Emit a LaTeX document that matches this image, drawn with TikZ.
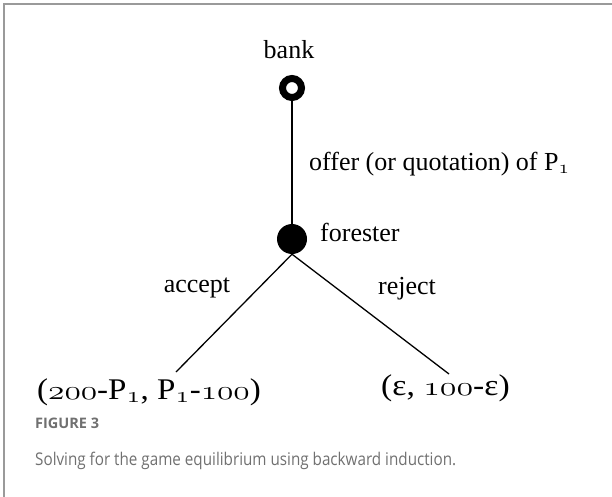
\documentclass[tikz,border=0pt]{standalone}
\usepackage{graphicx}
\usepackage{fontspec}
\setmainfont{Liberation Serif}
\newfontfamily\capfont{Open Sans}
\newcommand{\osn}[1]{\scalebox{1.22}[1.08]{\usefont{OML}{cmm}{m}{it}#1}}
\definecolor{capgray}{HTML}{707070}
\definecolor{framegray}{HTML}{9A9A9A}
\begin{document}
\begin{tikzpicture}[x=1pt,y=-1pt,
  lbl/.style={font=\fontsize{26}{30}\selectfont, inner sep=0pt},
  pay/.style={font=\fontsize{30}{34}\selectfont, inner sep=0pt},
  edge/.style={line width=1.3pt, draw=black},
  captext/.style={text=capgray, inner sep=0pt, anchor=base west}]
\useasboundingbox (0,0) rectangle (612,497);
\draw[framegray, line width=1.5pt] (4,497) -- (4,4) -- (612,4);
% nodes
\node[circle, draw=black, line width=7pt, fill=white, minimum size=19pt, inner sep=0pt] (bank) at (292,88) {};
\node[circle, fill=black, minimum size=30pt, inner sep=0pt] (forester) at (292,239) {};
\coordinate (left) at (176,372);
\coordinate (right) at (449,374);
% edges
\draw[edge] (bank) -- (forester);
\draw[edge] (forester.south) -- (left);
\draw[edge] (forester.south) -- (right);
% labels
\node[lbl, anchor=base] (banklbl) at (289,59) {bank};
\node[lbl, anchor=base west] (offer) at (309,170) {offer (or quotation) of P\textsubscript{\osn{1}}};
\node[lbl, anchor=base west] (forlbl) at (320,241) {forester};
\node[lbl, anchor=base] (accept) at (197,292) {accept};
\node[lbl, anchor=base] (reject) at (407,294) {reject};
\node[pay, anchor=base west] (payL) at (37,399) {\scalebox{1.1}[1]{(\osn{200}-P\textsubscript{\osn{1}}, P\textsubscript{\osn{1}}-\osn{100})}};
\node[pay, anchor=base west] (payR) at (381,395) {\scalebox{1.12}[1]{(ε, \osn{100}-ε)}};
% caption
\node[captext, font=\capfont\bfseries\fontsize{14.5}{17}\selectfont] (fig) at (35,428) {FIGURE 3};
\node[captext, font=\capfont\fontsize{17.5}{20}\selectfont] (caption) at (35,465) {\scalebox{0.87}[1]{Solving for the game equilibrium using backward induction.}};
\end{tikzpicture}
\end{document}
